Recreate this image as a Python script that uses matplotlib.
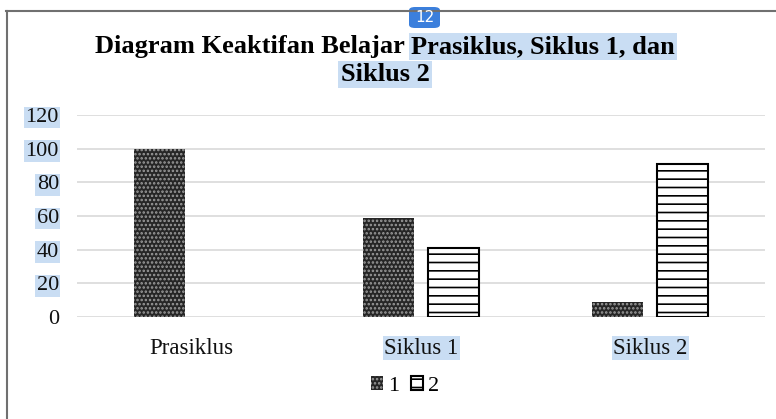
import matplotlib
matplotlib.use("Agg")
import matplotlib.pyplot as plt
import numpy as np
from matplotlib.patches import FancyBboxPatch, Patch
from matplotlib.lines import Line2D

categories = ["Prasiklus", "Siklus 1", "Siklus 2"]
series_1 = [100, 59, 9]
series_2 = [0, 41, 91]
series_names = ["1", "2"]
yticks = [0, 20, 40, 60, 80, 100, 120]

HL = "#c9ddf3"
plt.rcParams["font.family"] = ["Liberation Serif", "DejaVu Serif"]
plt.rcParams["hatch.linewidth"] = 1.2

W, H = 776, 419
fig = plt.figure(figsize=(W / 100, H / 100), dpi=100)
ax = fig.add_axes([77 / W, 1 - 317 / H, (765 - 77) / W, (317 - 115) / H])

x = np.arange(len(categories))
bw = 0.222
off = 0.142
s1_style = dict(facecolor="#262626", edgecolor="#9c9c9c", hatch="....", linewidth=0)
s2_style = dict(facecolor="white", edgecolor="black", hatch="--", linewidth=1.5)
ax.bar(x - off, series_1, bw, zorder=3, **s1_style)
b2 = ax.bar(x + off, series_2, bw, zorder=3, **s2_style)
# a zero-height bar leaves no trace in the reference
for r, v in zip(b2, series_2):
    if v == 0:
        r.set_visible(False)

ax.set_xlim(-0.5, 2.5)
ax.set_ylim(0, 120)
ax.set_yticks(yticks)
ax.grid(axis="y", color="#d9d9d9", linewidth=1.2, zorder=0)
ax.set_axisbelow(True)
for s in ax.spines.values():
    s.set_visible(False)
ax.tick_params(length=0, colors="#111111")
ax.tick_params(axis="y", pad=13, labelsize=16)
ax.tick_params(axis="x", pad=15, labelsize=16.5)
ax.set_xticks(x)
ax.set_xticklabels(categories)

for lbl, v in zip(ax.get_yticklabels(), yticks):
    if v != 0:
        lbl.set_bbox(dict(facecolor=HL, edgecolor="none", pad=1))
for lbl, c in zip(ax.get_xticklabels(), categories):
    if c != "Prasiklus":
        lbl.set_bbox(dict(facecolor=HL, edgecolor="none", pad=1))

# title in two lines, part of it highlighted
r = fig.canvas.get_renderer()
tkw = dict(fontsize=19, fontweight="bold", va="baseline")
pa = "Diagram Keaktifan Belajar"
pb = "Prasiklus, Siklus 1, dan"
ta = fig.text(0, 0, pa, **tkw)
tb = fig.text(0, 0, pb, **tkw)
tsp1 = fig.text(0, 0, "a b", **tkw)
tsp2 = fig.text(0, 0, "ab", **tkw)
wa = ta.get_window_extent(r).width
wb = tb.get_window_extent(r).width
wsp = tsp1.get_window_extent(r).width - tsp2.get_window_extent(r).width
tsp1.remove()
tsp2.remove()
cx = 385
start = cx - (wa + wsp + wb) / 2
y1 = 1 - 53 / H
ta.set_position((start / W, y1))
tb.set_position(((start + wa + wsp) / W, y1))
tb.set_bbox(dict(facecolor=HL, edgecolor="none", pad=1.5))
fig.text(cx / W, 1 - 81 / H, "Siklus 2", ha="center",
         bbox=dict(facecolor=HL, edgecolor="none", pad=1.5), **tkw)

handles = [Patch(**s1_style), Patch(**dict(s2_style, hatch="--", linewidth=1.5))]
fig.legend(handles=handles, labels=series_names, loc="center",
           bbox_to_anchor=(405 / W, 1 - 386 / H), ncol=2, frameon=False,
           fontsize=16, handlelength=0.55, handleheight=0.55,
           handletextpad=0.25, columnspacing=0.5)

# frame around chart area
fig.add_artist(Line2D([6 / W, 1], [1 - 11 / H] * 2, color="#707070", lw=1.5))
fig.add_artist(Line2D([7 / W] * 2, [0, 1 - 11 / H], color="#707070", lw=1.5))

# page-number badge
badge = FancyBboxPatch((409 / W, 1 - 28 / H), 31 / W, 21 / H,
                       boxstyle="round,pad=0,rounding_size=0.008",
                       transform=fig.transFigure, facecolor="#3b7fdc",
                       edgecolor="none")
fig.add_artist(badge)
fig.text(424.5 / W, 1 - 17.5 / H, "12", ha="center", va="center",
         color="white", fontsize=11, family="DejaVu Sans")

fig.savefig("out.png", dpi=100)
